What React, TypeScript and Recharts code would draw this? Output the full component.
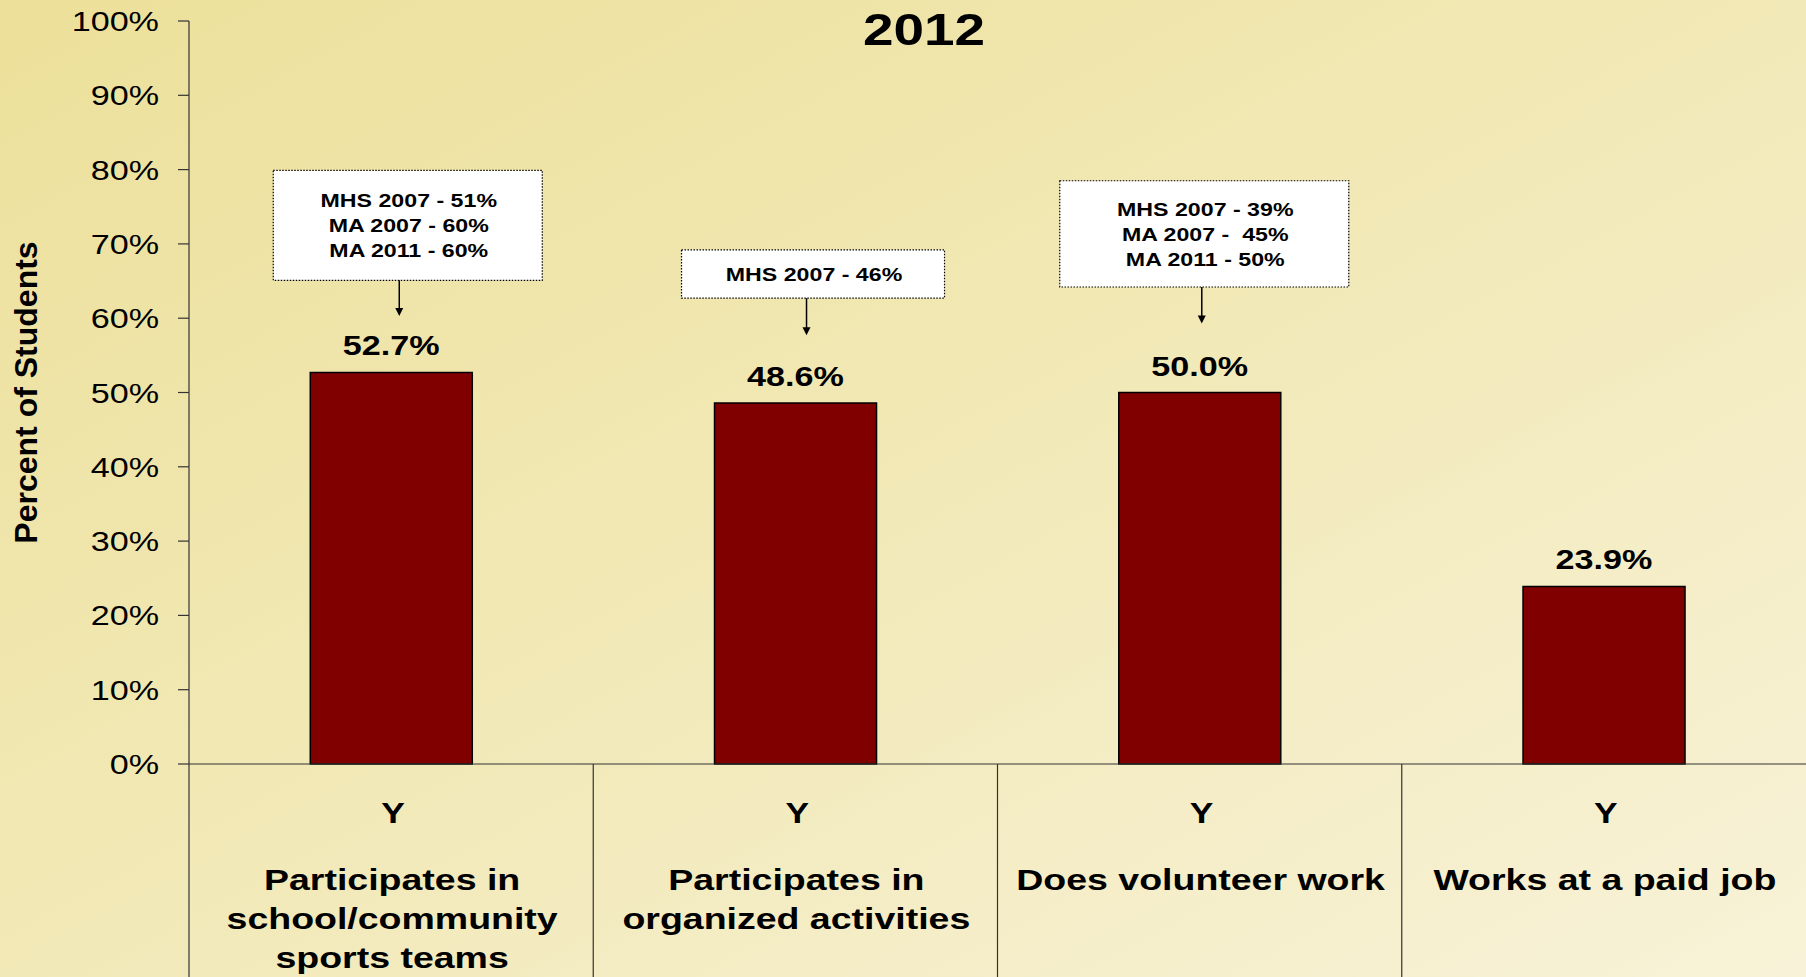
import React from 'react';
import { BarChart, Bar, XAxis, YAxis, LabelList, Label } from 'recharts';

// ---------- data ----------
const categories = [
  'Participates in school/community sports teams',
  'Participates in organized activities',
  'Does volunteer work',
  'Works at a paid job',
];
const categoryLines = [
  ['Participates in', 'school/community', 'sports teams'],
  ['Participates in', 'organized activities'],
  ['Does volunteer work'],
  ['Works at a paid job'],
];
const responseLabels = ['Y', 'Y', 'Y', 'Y'];
const values = [52.7, 48.6, 50.0, 23.9];
const yTicks = [0, 10, 20, 30, 40, 50, 60, 70, 80, 90, 100];
const comparisonNotes = [
  ['MHS 2007 - 51%', 'MA 2007 - 60%', 'MA 2011 - 60%'],
  ['MHS 2007 - 46%'],
  ['MHS 2007 - 39%', 'MA 2007 -  45%', 'MA 2011 - 50%'],
  [],
];
const titleText = '2012';
const yAxisTitle = 'Percent of Students';

// annotation box layout (value units for vertical, px offsets from bar centre for horizontal)
const noteLayout = [
  { top: 79.9, bottom: 65.1, tip: 60.3, left: -118, right: 151, arrowDx: 8 },
  { top: 69.2, bottom: 62.7, tip: 57.7, left: -114, right: 149, arrowDx: 11 },
  { top: 78.5, bottom: 64.2, tip: 59.3, left: -140, right: 149, arrowDx: 2 },
  null,
];

const data = categories.map((c, i) => ({ name: c, value: values[i], idx: i }));

const W = 1806;
const H = 977;
const FONT = '"Liberation Sans", Arial, Helvetica, sans-serif';
const SX = 1.22;

function SText({ x, y, size, bold, anchor = 'middle', sx = SX, children }: any) {
  return (
    <text
      transform={`translate(${x},${y}) scale(${sx},1)`}
      x={0}
      y={0}
      textAnchor={anchor}
      fontFamily={FONT}
      fontSize={size}
      fontWeight={bold ? 'bold' : 'normal'}
      fill="#000"
      style={{ whiteSpace: 'pre' }}
    >
      {children}
    </text>
  );
}

function YTick(props: any) {
  const { x, y, payload } = props;
  return (
    <SText x={x} y={y + 10} size={28} anchor="end">
      {`${payload.value}%`}
    </SText>
  );
}

function XTick(props: any) {
  const { x, y, index, width, visibleTicksCount } = props;
  const bw = width && visibleTicksCount ? width / visibleTicksCount : 404.25;
  const left = x - bw / 2;
  const lines = categoryLines[index] || [];
  return (
    <g>
      <line x1={left} x2={left} y1={y} y2={y + 220} stroke="#333" strokeWidth={1.2} />
      <SText x={x + 2} y={y + 59} size={29} bold>
        {responseLabels[index]}
      </SText>
      {lines.map((l: string, k: number) => (
        <SText key={k} x={x + 1} y={y + 126 + k * 39} size={30} bold sx={1.25}>
          {l}
        </SText>
      ))}
    </g>
  );
}

function BarLabel(props: any) {
  const vb = props.viewBox || props;
  const x = Number(vb.x ?? props.x);
  const y = Number(vb.y ?? props.y);
  const w = Number(vb.width ?? props.width);
  const h = Number(vb.height ?? props.height);
  const i = Number(props.value);
  if (!isFinite(x) || !isFinite(i)) return null;
  const v = values[i];
  const ppu = h / v;
  const zeroY = y + h;
  const cx = x + w / 2;
  const notes = comparisonNotes[i];
  const lay = noteLayout[i];
  let box = null;
  if (notes.length && lay) {
    const top = zeroY - lay.top * ppu;
    const bottom = zeroY - lay.bottom * ppu;
    const tip = zeroY - lay.tip * ppu;
    const left = cx + lay.left;
    const right = cx + lay.right;
    const ax = cx + lay.arrowDx;
    const mid = (top + bottom) / 2;
    const n = notes.length;
    box = (
      <g>
        <rect
          x={left}
          y={top}
          width={right - left}
          height={bottom - top}
          fill="#fff"
          stroke="#000"
          strokeWidth={1.2}
          strokeDasharray="1.5 1.5"
        />
        {notes.map((t: string, k: number) => (
          <SText key={k} x={(left + right) / 2 + 1} y={mid + (k - (n - 1) / 2) * 25 + 7} size={19} bold>
            {t}
          </SText>
        ))}
        <line x1={ax} x2={ax} y1={bottom} y2={tip - 6} stroke="#000" strokeWidth={1.5} />
        <polygon points={`${ax - 4},${tip - 8} ${ax + 4},${tip - 8} ${ax},${tip}`} fill="#000" />
      </g>
    );
  }
  return (
    <g>
      {box}
      <SText x={cx} y={y - 17} size={28} bold>
        {`${v.toFixed(1)}%`}
      </SText>
    </g>
  );
}

export default function App() {
  return (
    <div
      style={{
        position: 'absolute',
        left: 0,
        top: 0,
        width: W,
        height: H,
        overflow: 'hidden',
        background: 'linear-gradient(to bottom right, #ECE09A 0%, #F1E8B4 45%, #F8F2D8 100%)',
      }}
    >
      <BarChart
        width={W}
        height={H}
        data={data}
        margin={{ top: 21, right: 0, bottom: 0, left: 0 }}
        barCategoryGap="30%"
      >
        <XAxis
          dataKey="name"
          height={213}
          interval={0}
          tickLine={false}
          tickSize={0}
          tickMargin={0}
          axisLine={{ stroke: '#333', strokeWidth: 1.2 }}
          tick={<XTick />}
        />
        <YAxis
          width={189}
          domain={[0, 100]}
          ticks={yTicks}
          interval={0}
          tickSize={11}
          tickMargin={19}
          axisLine={{ stroke: '#333', strokeWidth: 1.2 }}
          tickLine={{ stroke: '#333', strokeWidth: 1.2 }}
          tick={<YTick />}
        >
          <Label
            content={(p: any) => {
              const vb = p.viewBox || { x: 0, y: 21, height: 743 };
              const cx = 26;
              const cy = vb.y + vb.height / 2;
              return (
                <text
                  transform={`translate(${cx},${cy}) rotate(-90)`}
                  x={0}
                  y={0}
                  textAnchor="middle"
                  dominantBaseline="central"
                  fontFamily={FONT}
                  fontSize={32}
                  fontWeight="bold"
                  fill="#000"
                >
                  {yAxisTitle}
                </text>
              );
            }}
          />
        </YAxis>
        <Bar dataKey="value" fill="#800000" stroke="#000" strokeWidth={1.5} isAnimationActive={false}>
          <LabelList dataKey="idx" content={<BarLabel />} />
        </Bar>
      </BarChart>
      <svg
        width={W}
        height={80}
        style={{ position: 'absolute', left: 0, top: 0, pointerEvents: 'none' }}
      >
        <SText x={924} y={45} size={45} bold>
          {titleText}
        </SText>
      </svg>
    </div>
  );
}
